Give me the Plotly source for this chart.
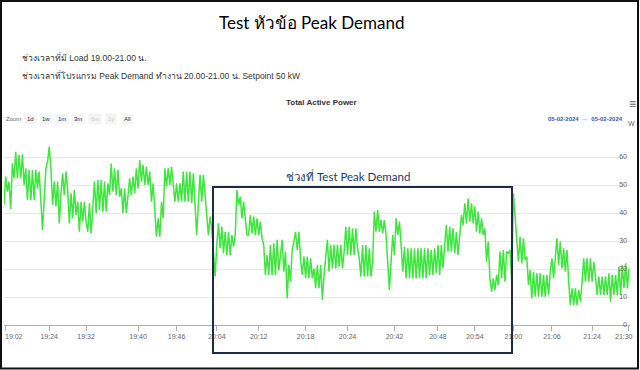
import plotly.graph_objects as go

# ---- data (kW), ordinal points ----
power_1902_1932 = [42.9,53,47.6,51.2,41.4,57.7,52.4,61.9,52.4,60.7,52.4,61,50,56,44.6,55.4,44.6,55.4,44.6,55.4,48.8,54.8,44,33.9,45,56,58.3,63.7,56,42.9,51.2,42.3,51.2,36.3,47,54.2,46.4,54.8,48.2,36.3,47,38.1,48.2,39.3,44,33.3,44,36.9,44,36.9,33.3,43.5,32.7,41,51.2,39.9,51.8,41.1,51.8,40.5,51.2,40.5,50.6,46.4,57.7,47.6,56,46.4,55.4,45.8,48.8,39.9]
power_1932_2012 = [48.8,39.9,47.6,52.4,46.4,53,47,56,48.8,58.9,51.2,57.1,50,56.5,50,54.8,44,50.6,41,31.5,38.1,31.5,44,38.1,56,49.4,56,50,56.5,50,44,50.6,44,50.6,44,54.8,44,54.8,44,54.8,43.5,54.2,43,32.1,43.5,53.6,44,53.6,46.4,39.3,32.1,38.7,34.5,26,17.3,28.6,36.3,27.4,35.1,25.6,33.3,25,33.3,25,32.1,28,32.1,48.2,42.9,45.8,38.1,44,38.1,32.1]
power_2012_2042 = [32.1,39.3,32.7,38.7,32.1,38.1,32.1,36.9,31,28.6,17.9,25,17.9,28.6,17.9,29.2,17.9,30.4,19.6,25.6,30.4,19,26.2,9.5,21.4,15.5,26.8,29.8,33.3,26.8,33.3,23.2,17.9,24.4,16.7,24.4,16.7,23.8,16.7,20.2,13.1,21.4,13.1,21.4,8.9,17.9,25,30.4,19,28.6,20.2,28.6,20.2,28.6,20.8,28.6,20.2,26.2,35.1,25,35.1,25,34.5,25,34.5,27.4,23.8,17.3,28.6,17.3,28.6,17.3,27.4,17.3]
power_2042_2100 = [22.6,40.5,33.3,41.1,33.3,37.5,32.7,37.5,32.1,22,12.5,22.6,32.1,25,38.1,32.1,36.9,28.6,19,28,16.7,27.4,16.7,27.4,16.7,27.4,16.7,27.4,16.7,27.4,16.7,27.4,16.7,27.4,17.9,26.8,17.9,27.4,18.5,28.6,17.9,28.6,20.2,28.6,35.7,26.2,35.1,26.2,34.5,25.6,33.3,25,33.3,39.3,35.7,43.5,36.3,45.2,36.9,43.5,36.3,42.3,33.3,40.5,32.7,38.1,32.1,34.5,22.6,29.8,16.7,11.9,16.7,12.5,17.9]
power_2100_2130 = [14.3,26.2,16.7,26.8,15.5,26.2,25.6,26.8,15.5,47,39.3,28.6,22.6,31.5,22,31,23.2,24.4,14.3,19.6,9.5,19,10.1,18.5,10.1,18.5,10.1,17.9,10.1,17.9,10.7,19,23.8,16.7,23.8,31,21.4,29.8,20.2,27.4,19,26.8,15.5,7.1,13.1,7.1,13.1,7.1,12.5,8.3,15.5,23.8,15.5,23.8,15.5,23.8,15.5,22.6,17.3,10.7,17.3,10.7,17.3,10.7,17.3,10.7,18.5,8.3,17.9,10.7,17.9,10.7,20.8,10.7,21.4,13.1,22,13.1,20.2]

tick_labels = ["19:02","19:24","19:32","19:40","19:46","20:04","20:12","20:18",
               "20:24","20:42","20:48","20:54","21:00","21:06","21:24","21:30"]
tick_points = [1, 27, 49, 80, 103, 127, 152, 180, 205, 233, 259, 281, 304, 327, 351, 373]

y_ticks = [0, 10, 20, 30, 40, 50, 60, 70]
y_tick_text = ["0", "10", "20", "30", "40", "50", "60", ""]

power = power_1902_1932 + power_1932_2012 + power_2012_2042 + power_2042_2100 + power_2100_2130
idx = list(range(len(power)))

# ---- geometry helpers (layout only) ----
L, R, T, B = 4, 630, 129, 325
def px(x):
    return (x - L) / (R - L)
def py(y):
    return (B - y) / (B - T)

# edge tick labels are drawn shifted inward (as the original chart does)
inner_text = [""] + tick_labels[1:-1] + [""]

fig = go.Figure()
fig.add_trace(go.Scatter(x=idx, y=power, mode="lines",
                         line=dict(color="#3fe43f", width=1.5), hoverinfo="skip",
                         showlegend=False))

fig.update_layout(
    width=640, height=370,
    margin=dict(l=L, r=640 - R, t=T, b=370 - B),
    paper_bgcolor="white", plot_bgcolor="white",
    font=dict(family="Liberation Sans, Arial, sans-serif", color="#333"),
    xaxis=dict(range=[0, len(power) - 1 + 0.6], tickvals=tick_points, ticktext=inner_text,
               showgrid=False, zeroline=False, showline=True, linecolor="#b0b0b0", linewidth=1,
               ticks="outside", ticklen=5, tickcolor="#b0b0b0",
               tickfont=dict(size=7, color="#666")),
    yaxis=dict(range=[0, 70], tickvals=y_ticks, ticktext=y_tick_text, side="right",
               ticklabelposition="inside", ticklabeloverflow="allow",
               showgrid=True, gridcolor="#e8e8e8", gridwidth=1,
               zeroline=False, showline=False, tickfont=dict(size=7, color="#666")),
)

ann = []
ann.append(dict(text=tick_labels[0], x=px(3), y=py(336), xanchor="left", yanchor="middle",
                font=dict(size=7, color="#666")))
ann.append(dict(text=tick_labels[-1], x=px(635), y=py(336), xanchor="right", yanchor="middle",
                font=dict(size=7, color="#666")))
ann.append(dict(text="Test หัวข้อ Peak Demand", x=px(312), y=py(22), xanchor="center", yanchor="middle",
                font=dict(family="Lato, Noto Sans, sans-serif", size=17, color="#000")))
ann.append(dict(text="ช่วงเวลาที่มี Load 19.00-21.00 น.", x=px(20), y=py(57), xanchor="left", yanchor="middle",
                font=dict(size=8.5, color="#333")))
ann.append(dict(text="ช่วงเวลาที่โปรแกรม Peak Demand ทำงาน 20.00-21.00 น. Setpoint 50 kW", x=px(20), y=py(75),
                xanchor="left", yanchor="middle", font=dict(size=8.5, color="#333")))
ann.append(dict(text="<b>Total Active Power</b>", x=px(321), y=py(102), xanchor="center", yanchor="middle",
                font=dict(size=8, color="#333")))
ann.append(dict(text="Zoom", x=px(4), y=py(119), xanchor="left", yanchor="middle",
                font=dict(size=6, color="#666")))
for lab, cx, col in [("1d", 30, "#333"), ("1w", 46, "#333"), ("1m", 62, "#333"), ("3m", 78, "#333"),
                     ("6m", 95, "#ccc"), ("1y", 111, "#ccc"), ("All", 127, "#333")]:
    ann.append(dict(text=lab, x=px(cx), y=py(119), xanchor="center", yanchor="middle",
                    bgcolor="#f4f4f4", borderpad=2, font=dict(size=6, color=col)))
ann.append(dict(text="<b>05-02-2024  →  05-02-2024</b>", x=px(625), y=py(119), xanchor="right", yanchor="middle",
                font=dict(size=6, color="#335cad")))
ann.append(dict(text="≡", x=px(632), y=py(104), xanchor="center", yanchor="middle",
                font=dict(size=12, color="#666")))
ann.append(dict(text="W", x=px(631), y=py(123), xanchor="center", yanchor="middle",
                font=dict(size=7, color="#666")))
ann.append(dict(text="ช่วงที่ Test Peak Demand", x=px(348), y=py(176), xanchor="center", yanchor="middle",
                font=dict(family="Lato, Noto Sans, sans-serif", size=11.5, color="#1f3864")))
for a in ann:
    a.update(xref="paper", yref="paper", showarrow=False)
fig.update_layout(annotations=ann)

fig.update_layout(shapes=[
    dict(type="rect", xref="paper", yref="paper", x0=px(213), x1=px(512), y0=py(353), y1=py(187),
         line=dict(color="#1f2a44", width=2)),
    dict(type="rect", xref="paper", yref="paper", x0=px(1), x1=px(638), y0=py(368.5), y1=py(1),
         line=dict(color="#111", width=2)),
])

fig.write_html("out.html", config={"displayModeBar": False},
               post_script="document.body.style.margin='0';document.body.style.overflow='hidden';")
